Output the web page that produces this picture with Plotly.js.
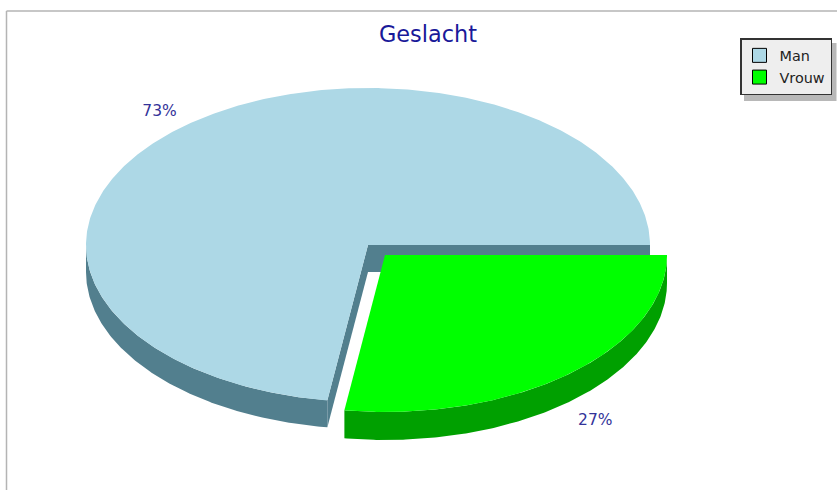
<!DOCTYPE html>
<html>
<head>
<meta charset="utf-8">
<script src="https://cdn.plot.ly/plotly-3.0.1.min.js"></script>
<style>html,body{margin:0;padding:0;background:#fff;overflow:hidden}#chart{width:837px;height:490px}</style>
</head>
<body>
<div id="chart"></div>
<script>
var categories = ['Man', 'Vrouw'];
var values = [72.7, 27.3];
var topColors = ['#ADD8E6', '#00FF00'];
var sideColors = ['#527F8E', '#00A000'];
var chartTitle = 'Geslacht';

var FONT = '"DejaVu Sans", Verdana, sans-serif';
var W = 837, H = 490;
var RX = 282, RY = 157;
var centers = [{x: 368, y: 245, d: 27}, {x: 385, y: 255, d: 28}];
var total = values.reduce(function (a, b) { return a + b; }, 0);
var vrouwEnd = values[1] / total * 360;
var spans = [[vrouwEnd, 360], [0, vrouwEnd]];

function pt(c, deg, dy, f) {
  var r = deg * Math.PI / 180; f = f || 1;
  return [c.x + RX * f * Math.cos(r), c.y + RY * f * Math.sin(r) + (dy || 0)];
}
function arc(c, a, b, dy) {
  var out = [], n = Math.max(2, Math.ceil(Math.abs(b - a) * 2));
  for (var i = 0; i <= n; i++) out.push(pt(c, a + (b - a) * i / n, dy));
  return out;
}
function poly(points, color) {
  return {
    type: 'scatter', mode: 'lines', fill: 'toself', fillcolor: color,
    x: points.map(function (p) { return p[0]; }),
    y: points.map(function (p) { return p[1]; }),
    line: {width: 0, color: color}, showlegend: false, hoverinfo: 'skip'
  };
}
function center(c) { return [c.x, c.y]; }

var traces = [];
// Man: lower rim
(function () {
  var c = centers[0], a = spans[0][0], b = 180;
  traces.push(poly(arc(c, a, b, 0).concat(arc(c, b, a, c.d)), sideColors[0]));
  // Cut faces of the gap
  var e0 = pt(c, 0), e1 = pt(c, a);
  traces.push(poly([center(c), e0, [e0[0], e0[1] + c.d], [c.x, c.y + c.d]], sideColors[0]));
  traces.push(poly([center(c), e1, [e1[0], e1[1] + c.d], [c.x, c.y + c.d]], sideColors[0]));
  traces.push(poly([center(c)].concat(arc(c, a, 360, 0)), topColors[0]));
})();
// Vrouw: exploded slice
(function () {
  var c = centers[1], a = spans[1][0], b = spans[1][1];
  traces.push(poly(arc(c, a, b, 0).concat(arc(c, b, a, c.d)), sideColors[1]));
  traces.push(poly([center(c)].concat(arc(c, a, b, 0)), topColors[1]));
})();

// Percentage labels
var midMan = (spans[0][0] + spans[0][1]) / 2, midVrouw = (spans[1][0] + spans[1][1]) / 2;
var l0 = pt(centers[0], midMan, 1, 1.13), l1 = pt(centers[1], midVrouw, 31, 1.14);
traces.push({
  type: 'scatter', mode: 'text', x: [l0[0], l1[0]], y: [l0[1], l1[1]],
  text: values.map(function (v) { return Math.round(v / total * 100) + '%'; }),
  textposition: 'middle center',
  textfont: {family: FONT, size: 15.5, color: '#333399'},
  showlegend: false, hoverinfo: 'skip'
});

// Legend entries
categories.forEach(function (name, i) {
  traces.push({
    type: 'scatter', mode: 'markers', name: name,
    x: [null], y: [null],
    marker: {symbol: 'square', size: 14, color: topColors[i], line: {color: '#000', width: 1}}
  });
});

var layout = {
  width: W, height: H,
  margin: {l: 0, r: 0, t: 0, b: 0, pad: 0},
  paper_bgcolor: '#fff', plot_bgcolor: '#fff',
  xaxis: {range: [0, W], visible: false, fixedrange: true},
  yaxis: {range: [H, 0], visible: false, fixedrange: true},
  title: {
    text: chartTitle, x: 428 / W, xanchor: 'center', y: 1 - 34 / H, yanchor: 'middle',
    font: {family: FONT, size: 22.4, color: '#191999'}
  },
  legend: {
    x: 740 / W, xanchor: 'left', y: 1 - 38 / H, yanchor: 'top',
    bgcolor: '#EEEEEE', bordercolor: '#333', borderwidth: 1.5,
    indentation: -2, itemclick: false, itemdoubleclick: false,
    font: {family: FONT, size: 14.4, color: '#222'}
  },
  shapes: [
    {type: 'line', xref: 'x', yref: 'y', x0: 6.5, x1: W, y0: 11, y1: 11, line: {color: '#B4B4B4', width: 1.5}},
    {type: 'line', xref: 'x', yref: 'y', x0: 6.5, x1: 6.5, y0: 11, y1: H, line: {color: '#B4B4B4', width: 1.5}},
    {type: 'rect', xref: 'x', yref: 'y', x0: 744, x1: 836.5, y0: 43, y1: 101, fillcolor: '#B8B8B8', line: {width: 0}}
  ]
};
Plotly.newPlot('chart', traces, layout, {displayModeBar: false, staticPlot: false});
</script>
</body>
</html>
